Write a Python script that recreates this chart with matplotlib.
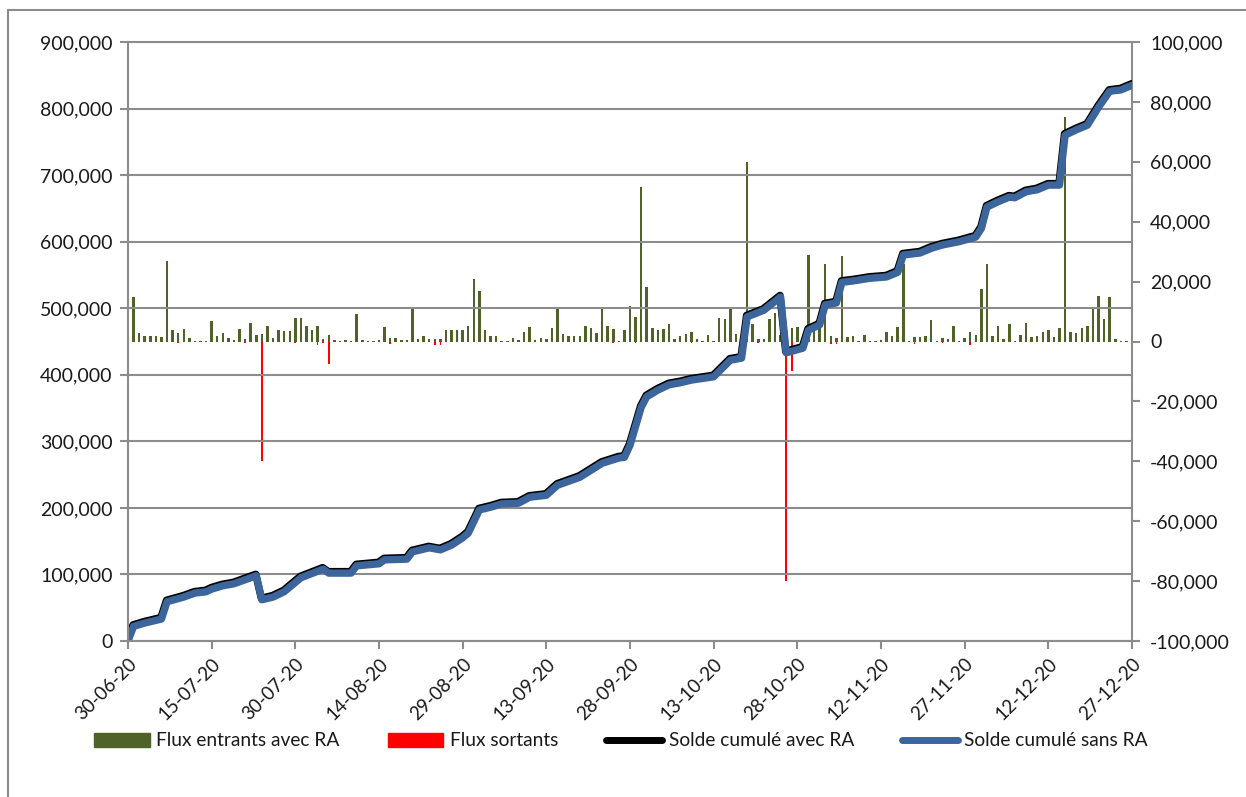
import numpy as np
import pandas as pd
import matplotlib
matplotlib.use("Agg")
import matplotlib.pyplot as plt
import matplotlib.transforms as mtransforms
from matplotlib.patches import Rectangle, Patch
from matplotlib.lines import Line2D

plt.rcParams['font.family'] = ['Lato', 'DejaVu Sans']
plt.rcParams['axes.unicode_minus'] = False

# daily inflows (thousands), 30-06-20 .. 27-12-20
flux_entrants_k = [
    0, 15, 2.9, 1.8, 1.8, 2, 1.4, 27, 3.7, 3, 4.2, 1.2, 0.3, 0.3, 0.3,
    6.7, 1.8, 2.9, 1.2, 0.5, 4.2, 0.9, 6.2, 2.2, 2.6, 5.3, 1.2, 3.7, 3.4, 3.4,
    7.9, 7.9, 5.3, 3.9, 5.3, 0.9, 2.3, 0.5, 0.3, 0.5, 0.3, 9.2, 0.5, 0.3, 0.3,
    0.5, 5, 1.2, 1.2, 0.5, 0.5, 11.4, 0.9, 2, 0.9, 0.9, 0.9, 4, 4, 4,
    4, 5.1, 21, 17, 3.7, 2, 2, 0.3, 0.3, 1.1, 0.5, 3.3, 5, 0.5, 1.1,
    0.7, 4.6, 10.9, 2.6, 2, 1.7, 1.7, 5.3, 4.6, 2.9, 11.4, 5.3, 4.2, 0.3, 3.7,
    11.8, 8.1, 51.7, 18.3, 4.6, 3.7, 4.2, 5.9, 0.9, 1.7, 2.5, 3.3, 0.9, 0.3, 2.3,
    0.3, 7.9, 7.4, 10.9, 2.6, 0.9, 60, 5.9, 0.9, 0.9, 7.6, 9.6, 2.3, 2.5, 4.6,
    5, 1.4, 29, 3.7, 4.6, 26, 2, 1.2, 28.4, 1.4, 1.7, 0.3, 2.3, 0.3, 0.3,
    0.5, 3.3, 2, 5, 25.9, 0.3, 1.4, 1.4, 1.7, 7.2, 0.3, 1.2, 0.9, 5.3, 0.3,
    1.2, 3.1, 2.3, 17.6, 25.9, 2, 5.3, 0.9, 5.9, 0.3, 2.3, 6.2, 1.4, 2, 3.3,
    3.7, 1.4, 4.6, 75, 3.1, 2.8, 4.6, 5.3, 10.9, 15.3, 7.6, 14.8, 0.9, 0.3, 0.3,
    6.2,
]

# outflows (thousands)
sortants_dates = ['09-07-20', '21-07-20', '24-07-20', '30-07-20', '03-08-20', '04-08-20',
                  '05-08-20', '07-08-20', '16-08-20', '24-08-20', '25-08-20', '25-09-20',
                  '29-09-20', '09-10-20', '21-10-20', '26-10-20', '27-10-20', '03-11-20',
                  '04-11-20', '18-11-20', '23-11-20', '28-11-20']
flux_sortants_k = [-0.5, -0.5, -40, -0.5, -1.3, -0.5, -7.5, -0.3, -1, -1.3, -1.2, -0.4,
                   -0.4, -0.5, -0.5, -80, -10, -1, -0.8, -0.7, -0.4, -1.3]

# cumulative balance (thousands)
solde_dates = ['30-06-20', '01-07-20', '03-07-20', '06-07-20', '07-07-20', '10-07-20',
               '12-07-20', '14-07-20', '15-07-20', '17-07-20', '19-07-20', '21-07-20',
               '23-07-20', '24-07-20', '26-07-20', '28-07-20', '31-07-20', '04-08-20',
               '05-08-20', '07-08-20', '09-08-20', '10-08-20', '14-08-20', '15-08-20',
               '19-08-20', '20-08-20', '23-08-20', '25-08-20', '27-08-20', '29-08-20',
               '30-08-20', '01-09-20', '03-09-20', '05-09-20', '08-09-20', '10-09-20',
               '13-09-20', '15-09-20', '19-09-20', '23-09-20', '26-09-20', '27-09-20',
               '28-09-20', '30-09-20', '01-10-20', '03-10-20', '05-10-20', '07-10-20',
               '09-10-20', '13-10-20', '16-10-20', '18-10-20', '19-10-20', '22-10-20',
               '25-10-20', '26-10-20', '29-10-20', '30-10-20', '01-11-20', '02-11-20',
               '04-11-20', '05-11-20', '07-11-20', '10-11-20', '13-11-20', '15-11-20',
               '16-11-20', '19-11-20', '21-11-20', '23-11-20', '26-11-20', '29-11-20',
               '30-11-20', '01-12-20', '03-12-20', '05-12-20', '06-12-20', '08-12-20',
               '10-12-20', '12-12-20', '14-12-20', '15-12-20', '17-12-20', '19-12-20',
               '21-12-20', '23-12-20', '25-12-20', '27-12-20']
solde_k = [0, 22, 27, 33, 59, 66, 72, 74, 78, 83, 86, 92,
           98, 62, 66, 74, 95, 108, 102, 102, 102, 113, 116, 122,
           123, 134, 140, 137, 144, 155, 162, 197, 201, 206, 207, 216,
           219, 234, 246, 267, 275, 276, 294, 351, 367, 377, 385, 388,
           392, 397, 422, 425, 487, 497, 517, 433, 440, 467, 475, 505,
           508, 539, 541, 545, 547, 554, 580, 583, 590, 595, 600, 607,
           620, 652, 660, 667, 666, 675, 678, 685, 685, 760, 768, 775,
           802, 826, 828, 835]

tick_labels = ['30-06-20', '15-07-20', '30-07-20', '14-08-20', '29-08-20', '13-09-20',
               '28-09-20', '13-10-20', '28-10-20', '12-11-20', '27-11-20', '12-12-20',
               '27-12-20']

labels = ['Flux entrants avec RA', 'Flux sortants', 'Solde cumulé avec RA', 'Solde cumulé sans RA']

GREEN = '#4F6228'
RED = '#FF0000'
BLUE = '#3B659B'
GREY = '#8C8C8C'
TXT = '#1A1A1A'

days = pd.date_range('2020-06-30', periods=len(flux_entrants_k), freq='D')
out_days = pd.to_datetime(sortants_dates, format='%d-%m-%y')
line_days = pd.to_datetime(solde_dates, format='%d-%m-%y')
ticks = pd.to_datetime(tick_labels, format='%d-%m-%y')

fig = plt.figure(figsize=(12.46, 7.97), dpi=100)
ax = fig.add_axes([128 / 1246, 1 - 641 / 797, 1004 / 1246, 599 / 797])
ax2 = ax.twinx()
ax.set_zorder(ax2.get_zorder() + 1)
ax.patch.set_visible(False)

# bars on the right axis
ax2.bar(days, np.array(flux_entrants_k) * 1000, width=0.45, color=GREEN, linewidth=0)
ax2.bar(out_days, np.array(flux_sortants_k) * 1000, width=0.3, color=RED, linewidth=0)
ax2.set_ylim(-100000, 100000)
ax2.set_yticks(np.arange(-100000, 100001, 20000))
ax2.set_yticklabels([f'{v:,.0f}' for v in np.arange(-100000, 100001, 20000)])

# cumulative lines on the left axis
vals = np.array(solde_k) * 1000
shadow = mtransforms.offset_copy(ax.transData, fig=fig, x=-0.4, y=1.1, units='points')
ax.plot(line_days, vals, color='black', lw=5.3, transform=shadow,
        solid_joinstyle='round', solid_capstyle='round')
ax.plot(line_days, vals, color=BLUE, lw=5.3, solid_joinstyle='round', solid_capstyle='round')

ax.set_ylim(0, 900000)
ax.set_yticks(np.arange(0, 900001, 100000))
ax.set_yticklabels([f'{v:,.0f}' for v in np.arange(0, 900001, 100000)])
ax.set_xlim(days[0], days[-1])
ax.set_xticks(ticks)
ax.set_xticklabels(tick_labels, rotation=45, ha='right', rotation_mode='anchor')

ax.yaxis.grid(True, color=GREY, lw=1.5)
ax.set_axisbelow(True)

for a in (ax, ax2):
    for s in a.spines.values():
        s.set_visible(False)
for s in ('left', 'bottom', 'top'):
    ax.spines[s].set_visible(True)
    ax.spines[s].set_color(GREY)
    ax.spines[s].set_linewidth(1.5)
ax2.spines['right'].set_visible(True)
ax2.spines['right'].set_color(GREY)
ax2.spines['right'].set_linewidth(1.5)

ax.tick_params(axis='both', length=6, width=1.5, color=GREY, labelsize=14, labelcolor=TXT, pad=5)
ax.tick_params(axis='x', pad=4, labelsize=13.5)
ax2.tick_params(axis='y', length=6, width=1.5, color=GREY, labelsize=14, labelcolor=TXT, pad=7)

handles = [Patch(color=GREEN), Patch(color=RED),
           Line2D([], [], color='black', lw=5, solid_capstyle='round'),
           Line2D([], [], color=BLUE, lw=5, solid_capstyle='round')]
fig.legend(handles, labels, loc='center', bbox_to_anchor=(621 / 1246, 1 - 741 / 797), ncol=4,
           frameon=False, fontsize=13.8, handlelength=2.9, handletextpad=0.35,
           columnspacing=2.5, labelcolor=TXT)

# chart area border (cut off at right and bottom)
fig.add_artist(Rectangle((8 / 1246, -0.1), 1.2, 1.1 - 10 / 797, transform=fig.transFigure,
                         fill=False, edgecolor=GREY, lw=1.5))

fig.savefig('out.png', dpi=100)
